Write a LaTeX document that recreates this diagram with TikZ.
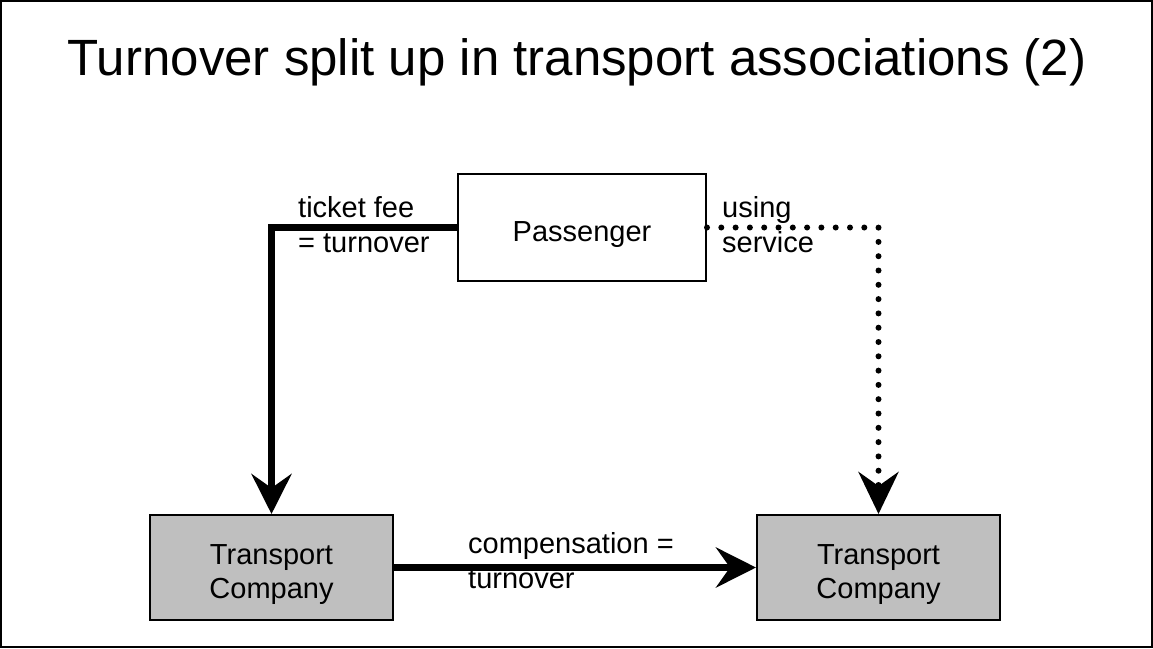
\documentclass[tikz,border=0pt]{standalone}
\usepackage{fontspec}
\setmainfont{Liberation Sans}
\usetikzlibrary{arrows.meta}
\tikzstyle{box}=[draw,line width=2pt,inner sep=0,minimum width=248pt,minimum height=107pt,text height=27pt,text depth=0pt,align=center,font=\fontsize{29}{34}\selectfont]
\tikzstyle{company}=[box,fill=black!25,minimum width=243pt,minimum height=105pt,text height=61pt]
\tikzstyle{lbl}=[anchor=base west,inner sep=0,align=left,font=\fontsize{29}{35}\selectfont]
\tikzstyle{money}=[line width=7pt,-{Stealth[length=40pt,width=40pt,inset=14pt]}]
\tikzstyle{usage}=[line width=6pt,line cap=round,dash pattern=on 0pt off 14.3pt,-{Stealth[length=42pt,width=40pt,inset=14pt,line cap=butt]}]

\begin{document}
\begin{tikzpicture}[x=1pt,y=-1pt]

                        \draw[line width=2pt] (1,1) rectangle (1152,647);
                        \useasboundingbox (0,0) rectangle (1153,648);

                        \node[anchor=base] (title) at (577,75) {\fontsize{51}{56}\selectfont Turnover split up in transport associations (2)};

                        \node[box] (pass) at (582,227.5) {Passenger};
                        \node[company] (tcl) at (271.5,567.5) {Transport\\Company};
                        \node[company] (tcr) at (878.5,567.5) {Transport\\Company};

                        \node[lbl] (fee) at (298,252) {ticket fee\\= turnover};
                        \node[lbl] (use) at (722,252) {using\\service};
                        \node[lbl] (comp) at (468,588) {compensation =\\turnover};

                        \draw[money] (pass.west) -| (tcl.north);
                        \draw[money] (tcl.east) -- (tcr.west);
                        \draw[usage] (pass.east) -| (tcr.north);

    \end{tikzpicture}
\end{document}
